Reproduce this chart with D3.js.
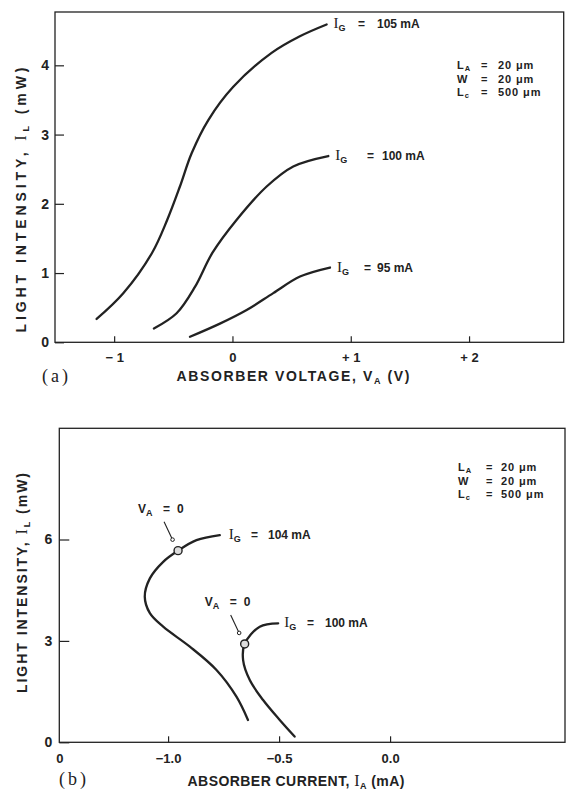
<!DOCTYPE html>
<html><head><meta charset="utf-8">
<script src="https://cdn.jsdelivr.net/npm/d3@7"></script>
<style>body{margin:0;background:#fff}svg{display:block}</style>
</head><body>
<svg id="c" width="567" height="792"></svg>
<script>
// ---------- DATA ----------
// Panel (a): light intensity vs absorber voltage
const voltTicks = [-1, 0, 1, 2];
const voltTickLabels = ["\u2212 1", "0", "+ 1", "+ 2"];
const intensTicksA = [0, 1, 2, 3, 4];
const seriesA = ["105", "100", "95"];
const ig105V = [-1.148, -0.923, -0.68, -0.551, -0.444, -0.345, -0.204, 0.007, 0.331, 0.57, 0.796];
const ig105L = [0.337, 0.708, 1.29, 1.77, 2.25, 2.73, 3.21, 3.69, 4.18, 4.42, 4.59];
const ig100V = [-0.664, -0.472, -0.317, -0.17, 0.036, 0.289, 0.514, 0.81];
const ig100L = [0.20, 0.42, 0.80, 1.29, 1.77, 2.25, 2.54, 2.69];
const ig95V = [-0.359, -0.106, 0.12, 0.345, 0.571, 0.824];
const ig95L = [0.08, 0.27, 0.467, 0.71, 0.95, 1.08];

// Panel (b): light intensity vs absorber current
const currTicks = [-1.49, -1.0, -0.5, 0.0];
const currTickLabels = ["0", "\u22121.0", "\u22120.5", "0.0"];
const intensTicksB = [0, 3, 6];
const ig104I = [-0.767, -0.872, -0.955, -1.022, -1.082, -1.105, -1.082, -1.022, -0.902, -0.782, -0.692, -0.64];
const ig104L = [6.13, 5.98, 5.67, 5.34, 4.85, 4.31, 3.82, 3.42, 2.83, 2.14, 1.35, 0.66];
const ig100bI = [-0.504, -0.587, -0.655, -0.662, -0.632, -0.572, -0.497, -0.43];
const ig100bL = [3.52, 3.42, 2.91, 2.43, 1.84, 1.25, 0.66, 0.17];
const vaZeroI = [-0.955, -0.655];
const vaZeroL = [5.67, 2.91];
const paramNames = [["L", "A"], ["W", ""], ["L", "c"]];
const paramValues = ["20 \u03bcm", "20 \u03bcm", "500 \u03bcm"];

// ---------- DRAWING ----------
const svg = d3.select("#c");
const SANS = "'Liberation Sans', Arial, Helvetica, sans-serif";
const SERIF = "'Liberation Serif', 'DejaVu Serif', serif";
const INK = "#222";

const line = (xs, ys, xS, yS) => d3.line().curve(d3.curveCatmullRom.alpha(0.5))
  .x(d => xS(d[0])).y(d => yS(d[1]))(xs.map((v, i) => [v, ys[i]]));

function drawCurve(xs, ys, xS, yS) {
  svg.append("path").attr("d", line(xs, ys, xS, yS))
    .attr("fill", "none").attr("stroke", INK).attr("stroke-width", 2.3)
    .attr("stroke-linecap", "round");
}

function frame(xS, yS) {
  const [x0, x1] = xS.range(), [y0, y1] = yS.range();
  svg.append("rect").attr("x", x0).attr("y", y1).attr("width", x1 - x0).attr("height", y0 - y1)
    .attr("fill", "none").attr("stroke", INK).attr("stroke-width", 1.3);
}

function styleAxis(g, size) {
  g.select(".domain").remove();
  g.selectAll(".tick line").attr("stroke", INK).attr("stroke-width", 1.2);
  g.selectAll(".tick text").attr("fill", INK).style("font-family", SANS)
    .style("font-weight", "bold").style("font-size", size + "px");
}

// I_G label with parts at given x positions
function igLabel(x, y, eqX, valX, val) {
  const t = svg.append("text").attr("y", y).attr("fill", INK)
    .style("font-family", SANS).style("font-weight", "bold").style("font-size", "12px");
  t.append("tspan").attr("x", x).style("font-family", SERIF).style("font-weight", "normal")
    .style("font-size", "15px").text("I");
  t.append("tspan").attr("dy", 3).style("font-size", "9px").text("G");
  t.append("tspan").attr("x", eqX).attr("dy", -3).text("=");
  t.append("tspan").attr("x", valX).text(val + " mA");
}

function params(x, eqX, valX, y0, dy) {
  paramNames.forEach((p, i) => {
    const t = svg.append("text").attr("y", y0 + i * dy).attr("fill", INK)
      .style("font-family", SANS).style("font-weight", "bold").style("font-size", "11px")
      .style("letter-spacing", "0.9px");
    t.append("tspan").attr("x", x).text(p[0]);
    if (p[1]) t.append("tspan").attr("dy", 2).style("font-size", "7.5px").text(p[1]);
    t.append("tspan").attr("x", eqX).attr("dy", p[1] ? -2 : 0).text("=");
    t.append("tspan").attr("x", valX).text(paramValues[i]);
  });
}

function yTitle(cx, cy, len) {
  const t = svg.append("text").attr("transform", `translate(${cx},${cy}) rotate(-90)`)
    .attr("text-anchor", "middle").attr("fill", INK)
    .attr("textLength", len).attr("lengthAdjust", "spacing")
    .style("font-family", SANS).style("font-weight", "bold").style("font-size", "14px");
  t.append("tspan").text("LIGHT INTENSITY, ");
  t.append("tspan").style("font-family", SERIF).style("font-weight", "normal").style("font-size", "16px").text("I");
  t.append("tspan").attr("dy", 3).style("font-size", "9px").text("L");
  t.append("tspan").attr("dy", -3).text(" (mW)");
}

function xTitle(cx, y, len, word, sym, symSerif, unit) {
  const t = svg.append("text").attr("x", cx).attr("y", y).attr("text-anchor", "middle").attr("fill", INK)
    .attr("textLength", len).attr("lengthAdjust", "spacing")
    .style("font-family", SANS).style("font-weight", "bold").style("font-size", "14px");
  t.append("tspan").text(word);
  const s = t.append("tspan").text(sym);
  if (symSerif) s.style("font-family", SERIF).style("font-weight", "normal").style("font-size", "16px");
  t.append("tspan").attr("dy", 3).style("font-size", "9px").text("A");
  t.append("tspan").attr("dy", -3).text(" " + unit);
}

// ----- Panel (a) -----
const xA = d3.scaleLinear().domain([-1.5, 2.8]).range([55, 563.7]);
const yA = d3.scaleLinear().domain([0, 4.77]).range([342.3, 12]);
frame(xA, yA);
svg.append("g").attr("transform", `translate(0,${yA(0)})`)
  .call(d3.axisBottom(xA).tickValues(voltTicks).tickFormat((d, i) => voltTickLabels[i])
    .tickSizeInner(-6).tickSizeOuter(0).tickPadding(10))
  .call(g => styleAxis(g, 13));
svg.append("g").attr("transform", `translate(${xA.range()[0]},0)`)
  .call(d3.axisLeft(yA).tickValues(intensTicksA).tickFormat(d3.format("d"))
    .tickSizeInner(-9).tickSizeOuter(0).tickPadding(6))
  .call(g => styleAxis(g, 14));

drawCurve(ig105V, ig105L, xA, yA);
drawCurve(ig100V, ig100L, xA, yA);
drawCurve(ig95V, ig95L, xA, yA);
const endsA = [[ig105V, ig105L, 358, 377, seriesA[0]], [ig100V, ig100L, 367, 382, seriesA[1]], [ig95V, ig95L, 364, 377, seriesA[2]]];
endsA.forEach(([xs, ys, eq, vx, lab]) => {
  const ex = xA(xs[xs.length - 1]) + 7, ey = yA(ys[ys.length - 1]) + 4;
  igLabel(ex, ey, eq, vx, lab);
});
params(457, 481, 498, 69, 13.6);
yTitle(26, 200, 265);
xTitle(293, 381, 233, "ABSORBER VOLTAGE, ", "V", false, "(V)");
svg.append("text").attr("x", 42).attr("y", 382).attr("fill", INK)
  .style("font-family", SERIF).style("font-size", "18px").style("letter-spacing", "3px").text("(a)");

// ----- Panel (b) -----
const xB = d3.scaleLinear().domain([-1.49, 0.788]).range([59.3, 565]);
const yB = d3.scaleLinear().domain([0, 9.29]).range([742.3, 428.3]);
frame(xB, yB);
svg.append("g").attr("transform", `translate(0,${yB(0)})`)
  .call(d3.axisBottom(xB).tickValues(currTicks).tickFormat((d, i) => currTickLabels[i])
    .tickSizeInner(-6).tickSizeOuter(0).tickPadding(11))
  .call(g => styleAxis(g, 13))
  .call(g => g.selectAll(".tick").filter((d, i) => i === 0).select("line").remove());
svg.append("g").attr("transform", `translate(${xB.range()[0]},0)`)
  .call(d3.axisLeft(yB).tickValues(intensTicksB).tickFormat(d3.format("d"))
    .tickSizeInner(-10).tickSizeOuter(0).tickPadding(7))
  .call(g => styleAxis(g, 14));

drawCurve(ig104I, ig104L, xB, yB);
drawCurve(ig100bI, ig100bL, xB, yB);
igLabel(xB(ig104I[0]) + 9, yB(ig104L[0]) + 4, 251, 268, "104");
igLabel(xB(ig100bI[0]) + 6, yB(ig100bL[0]) + 4, 307, 325, "100");

vaZeroI.forEach((v, i) => {
  const mx = xB(v), my = yB(vaZeroL[i]);
  svg.append("line").attr("x1", mx - 14).attr("y1", my - 29).attr("x2", mx - 6).attr("y2", my - 12)
    .attr("stroke", INK).attr("stroke-width", 1.1);
  svg.append("circle").attr("cx", mx - 5.5).attr("cy", my - 11).attr("r", 1.8)
    .attr("fill", "#fff").attr("stroke", INK).attr("stroke-width", 1);
  svg.append("circle").attr("cx", mx).attr("cy", my).attr("r", 4)
    .attr("fill", "#ddd").attr("stroke", INK).attr("stroke-width", 1.4);
  const t = svg.append("text").attr("x", mx - 40).attr("y", my - 38).attr("fill", INK)
    .style("font-family", SANS).style("font-weight", "bold").style("font-size", "12px");
  t.append("tspan").text("V");
  t.append("tspan").attr("dy", 3).style("font-size", "9px").text("A");
  t.append("tspan").attr("dy", -3).attr("x", mx - 15).text("=");
  t.append("tspan").attr("x", mx - 1).text("0");
});
params(458, 486, 501, 471, 13.6);
yTitle(27, 583, 220);
xTitle(296, 786, 217, "ABSORBER CURRENT, ", "I", true, "(mA)");
svg.append("text").attr("x", 59).attr("y", 785).attr("fill", INK)
  .style("font-family", SERIF).style("font-size", "18px").style("letter-spacing", "3px").text("(b)");
</script>
</body></html>
